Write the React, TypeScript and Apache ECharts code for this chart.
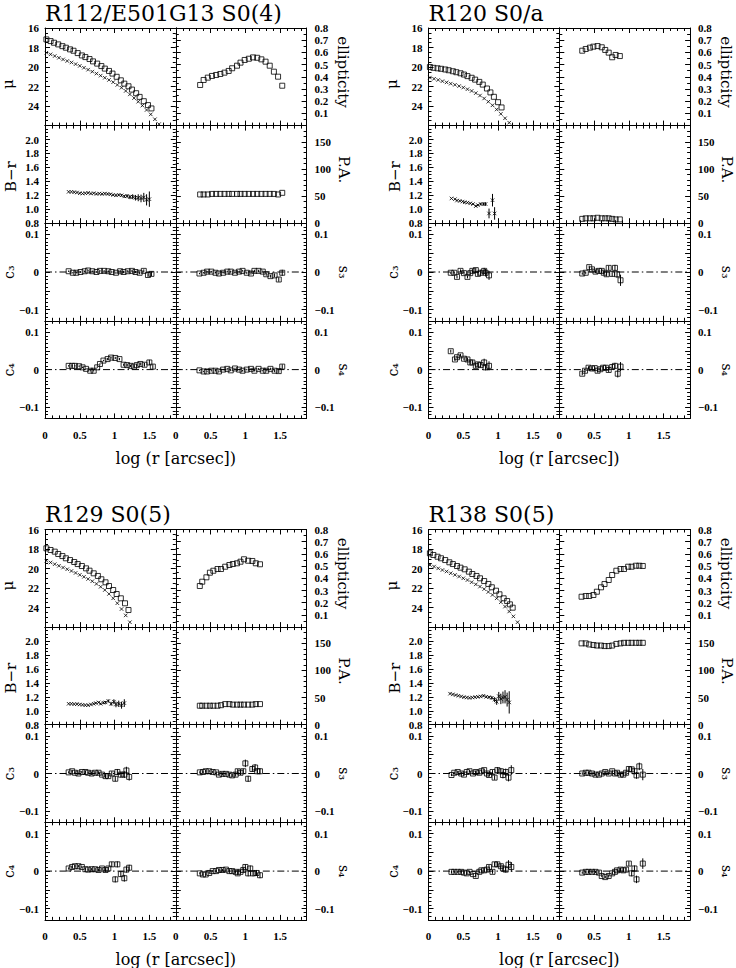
import React, { useEffect, useRef } from "react";
import * as echarts from "echarts";

const X_MAX = 1.88;

// ---------------- R112/E501G13 ----------------
const r112Title = "R112/E501G13 S0(4)";
const r112MuX = [0.02,0.08,0.13,0.19,0.25,0.30,0.36,0.41,0.47,0.53,0.58,0.64,0.69,0.75,0.81,0.86,0.92,0.97,1.03,1.09,1.14,1.20,1.25,1.31,1.36,1.42,1.48,1.53];
const r112Mu = [17.17,17.34,17.51,17.68,17.86,18.02,18.19,18.33,18.57,18.81,18.98,19.18,19.42,19.65,19.90,20.16,20.40,20.67,21.00,21.36,21.70,21.97,22.31,22.68,23.06,23.50,23.90,24.24];
const r112MuBX = [0.02,0.08,0.14,0.20,0.26,0.32,0.38,0.44,0.50,0.56,0.62,0.68,0.74,0.80,0.86,0.92,0.98,1.04,1.10,1.16,1.22,1.28,1.34,1.40,1.46,1.52,1.58,1.64];
const r112MuB = [18.53,18.70,18.87,19.05,19.22,19.38,19.53,19.70,19.88,20.07,20.27,20.47,20.67,20.88,21.10,21.32,21.55,21.83,22.12,22.45,22.80,23.18,23.55,23.95,24.40,24.85,25.35,25.85];
const r112IsoX = [0.35,0.40,0.46,0.52,0.58,0.64,0.70,0.76,0.81,0.88,0.93,0.99,1.05,1.11,1.17,1.23,1.29,1.35,1.41,1.47,1.53];
const r112Ell = [0.333,0.374,0.393,0.407,0.415,0.423,0.434,0.448,0.470,0.491,0.516,0.538,0.548,0.559,0.556,0.543,0.524,0.491,0.442,0.401,0.327];
const r112Pa = [53,53,53,54,54,54,54,54,54,54,54,54,54,54,54,54,54,54,54,53,56];
const r112BrX = [0.34,0.38,0.42,0.46,0.50,0.54,0.58,0.62,0.66,0.70,0.74,0.78,0.82,0.86,0.90,0.94,0.98,1.02,1.06,1.10,1.14,1.18,1.22,1.26,1.30,1.34,1.38,1.42,1.46,1.50];
const r112Br = [1.25,1.25,1.245,1.24,1.23,1.225,1.23,1.235,1.225,1.23,1.22,1.225,1.22,1.225,1.22,1.215,1.205,1.20,1.205,1.20,1.185,1.19,1.175,1.18,1.165,1.165,1.155,1.17,1.135,1.145];
const r112BrE = [0.004,0.004,0.004,0.005,0.005,0.005,0.006,0.006,0.007,0.007,0.008,0.008,0.009,0.010,0.010,0.011,0.012,0.013,0.014,0.016,0.020,0.025,0.030,0.035,0.040,0.050,0.055,0.065,0.080,0.110];
const r112HarmX = [0.34,0.40,0.45,0.51,0.57,0.62,0.68,0.74,0.79,0.85,0.91,0.96,1.02,1.08,1.13,1.19,1.25,1.30,1.36,1.42,1.48,1.53];
const r112C3 = [0.002,-0.002,-0.002,0.000,0.002,0.004,0.002,0.000,0.003,0.003,0.002,0.000,-0.002,0.002,0.000,0.002,0.003,0.000,-0.002,0.003,-0.008,-0.005];
const r112C3E = [0.002,0.002,0.002,0.002,0.002,0.002,0.002,0.002,0.002,0.002,0.002,0.002,0.003,0.003,0.003,0.003,0.003,0.003,0.004,0.004,0.005,0.006];
const r112S3 = [-0.004,-0.002,0.001,0.001,-0.002,-0.004,-0.002,0.001,0.001,-0.002,0.001,0.003,-0.002,-0.004,0.003,0.003,0.001,-0.006,-0.011,-0.009,-0.020,-0.002];
const r112S3E = [0.002,0.002,0.002,0.002,0.002,0.002,0.002,0.002,0.002,0.002,0.002,0.002,0.003,0.003,0.003,0.003,0.003,0.004,0.004,0.005,0.006,0.008];
const r112C4X = [0.34,0.39,0.43,0.49,0.54,0.59,0.65,0.70,0.75,0.79,0.84,0.90,0.95,1.01,1.07,1.13,1.18,1.23,1.28,1.32,1.37,1.43,1.50,1.55];
const r112C4 = [0.010,0.010,0.010,0.009,0.006,0.002,-0.003,-0.003,0.006,0.015,0.024,0.028,0.032,0.031,0.028,0.013,0.012,0.010,0.008,0.012,0.015,0.013,0.019,0.008];
const r112C4E = [0.002,0.002,0.002,0.002,0.002,0.002,0.002,0.002,0.002,0.002,0.002,0.003,0.003,0.003,0.003,0.003,0.003,0.003,0.004,0.004,0.004,0.005,0.007,0.006];
const r112S4 = [-0.002,-0.005,-0.005,-0.003,-0.003,-0.005,0.000,0.002,-0.002,0.003,0.000,-0.003,0.000,0.002,-0.003,0.002,-0.003,-0.003,0.002,-0.003,-0.004,0.008];
const r112S4E = [0.002,0.002,0.002,0.002,0.002,0.002,0.002,0.002,0.002,0.002,0.002,0.002,0.002,0.002,0.002,0.002,0.002,0.002,0.003,0.004,0.005,0.006];

// ---------------- R120 ----------------
const r120Title = "R120 S0/a";
const r120MuX = [0.02,0.07,0.13,0.18,0.24,0.29,0.35,0.40,0.46,0.51,0.56,0.62,0.67,0.73,0.78,0.84,0.89,0.94,1.00,1.05];
const r120Mu = [20.00,20.08,20.13,20.18,20.25,20.33,20.43,20.53,20.64,20.77,20.93,21.10,21.29,21.52,21.80,22.20,22.60,23.05,23.60,24.14];
const r120MuBX = [0.02,0.08,0.14,0.20,0.26,0.32,0.38,0.44,0.50,0.56,0.62,0.68,0.74,0.80,0.86,0.92,0.98,1.04,1.10,1.16];
const r120MuB = [21.08,21.20,21.32,21.45,21.57,21.70,21.82,21.95,22.10,22.27,22.45,22.67,22.92,23.22,23.55,23.92,24.35,24.80,25.25,25.70];
const r120IsoX = [0.33,0.38,0.44,0.49,0.55,0.61,0.66,0.71,0.76,0.81,0.87];
const r120Ell = [0.614,0.628,0.639,0.647,0.652,0.642,0.620,0.598,0.560,0.579,0.570];
const r120Pa = [8,9,9,9,10,9,9,9,8,7,7];
const r120BrX = [0.33,0.38,0.41,0.45,0.49,0.52,0.56,0.60,0.64,0.68,0.71,0.75,0.79,0.82,0.87,0.92,0.95];
const r120Br = [1.155,1.145,1.125,1.12,1.11,1.10,1.095,1.085,1.075,1.045,1.06,1.075,1.075,1.075,0.94,1.13,0.94];
const r120BrE = [0.004,0.005,0.005,0.006,0.006,0.007,0.008,0.009,0.010,0.012,0.015,0.018,0.020,0.025,0.070,0.090,0.090];
const r120C3X = [0.32,0.37,0.41,0.46,0.51,0.56,0.60,0.63,0.68,0.71,0.75,0.80,0.82,0.87];
const r120C3 = [-0.002,-0.002,-0.013,0.003,-0.003,-0.013,-0.003,0.003,0.005,-0.005,-0.002,0.003,-0.002,-0.009];
const r120C3E = [0.003,0.003,0.004,0.004,0.004,0.004,0.005,0.005,0.006,0.006,0.008,0.008,0.010,0.012];
const r120S3X = [0.33,0.38,0.43,0.47,0.52,0.57,0.61,0.64,0.68,0.71,0.76,0.80,0.83,0.88];
const r120S3 = [-0.004,-0.002,0.013,0.007,0.001,0.003,0.003,-0.002,-0.006,0.011,-0.005,0.011,-0.006,-0.022];
const r120S3E = [0.003,0.003,0.004,0.004,0.004,0.004,0.005,0.005,0.006,0.006,0.007,0.008,0.010,0.015];
const r120C4X = [0.32,0.38,0.41,0.46,0.51,0.56,0.60,0.63,0.68,0.71,0.75,0.80,0.82,0.87];
const r120C4 = [0.049,0.027,0.033,0.038,0.029,0.027,0.019,0.019,0.010,0.014,0.012,0.019,0.006,0.010];
const r120C4E = [0.004,0.004,0.004,0.004,0.004,0.005,0.005,0.005,0.006,0.006,0.007,0.010,0.008,0.012];
const r120S4X = [0.33,0.37,0.42,0.47,0.51,0.55,0.59,0.63,0.67,0.71,0.76,0.80,0.84,0.88];
const r120S4 = [-0.011,-0.003,0.005,0.003,0.004,-0.003,0.001,0.005,0.005,-0.001,0.007,0.010,-0.011,0.008];
const r120S4E = [0.004,0.004,0.004,0.004,0.004,0.005,0.005,0.005,0.006,0.006,0.007,0.008,0.010,0.012];

// ---------------- R129 ----------------
const r129Title = "R129 S0(5)";
const r129MuX = [0.02,0.08,0.14,0.19,0.25,0.30,0.36,0.42,0.47,0.53,0.59,0.64,0.70,0.76,0.81,0.87,0.92,0.98,1.03,1.09,1.15,1.20];
const r129Mu = [17.93,18.10,18.27,18.51,18.72,18.95,19.13,19.33,19.54,19.74,19.98,20.22,20.49,20.76,21.10,21.41,21.79,22.20,22.61,23.05,23.56,24.25];
const r129MuBX = [0.02,0.08,0.14,0.20,0.26,0.32,0.38,0.44,0.50,0.56,0.62,0.68,0.74,0.80,0.86,0.92,0.98,1.04,1.10,1.16,1.22];
const r129MuB = [19.20,19.38,19.55,19.72,19.90,20.07,20.25,20.45,20.65,20.85,21.07,21.30,21.57,21.87,22.20,22.60,23.05,23.55,24.15,24.80,25.50];
const r129IsoX = [0.345,0.38,0.44,0.49,0.54,0.60,0.65,0.71,0.77,0.82,0.88,0.93,0.98,1.04,1.10,1.15,1.21];
const r129Ell = [0.337,0.372,0.408,0.446,0.462,0.476,0.476,0.495,0.509,0.517,0.523,0.536,0.556,0.544,0.542,0.523,0.515];
const r129Pa = [35,35,35,35,35,35,36,38,38,37,37,37,37,37,37,38,38];
const r129BrX = [0.34,0.38,0.42,0.46,0.50,0.54,0.58,0.62,0.66,0.70,0.73,0.77,0.80,0.84,0.87,0.91,0.95,0.99,1.02,1.06,1.10,1.14];
const r129Br = [1.10,1.10,1.095,1.095,1.09,1.085,1.08,1.08,1.09,1.10,1.11,1.12,1.10,1.115,1.12,1.14,1.10,1.13,1.09,1.10,1.08,1.11];
const r129BrE = [0.004,0.004,0.004,0.005,0.005,0.005,0.006,0.006,0.007,0.008,0.009,0.010,0.012,0.015,0.018,0.022,0.028,0.035,0.040,0.045,0.050,0.055];
const r129C3X = [0.34,0.39,0.43,0.48,0.53,0.58,0.62,0.67,0.72,0.77,0.82,0.87,0.91,0.96,1.01,1.04,1.09,1.14,1.17,1.21];
const r129C3 = [0.003,0.006,0.002,0.000,0.004,0.004,0.002,0.000,0.002,0.002,-0.003,-0.007,-0.007,0.000,-0.014,0.004,-0.003,-0.003,0.008,-0.009];
const r129C3E = [0.003,0.003,0.003,0.003,0.003,0.003,0.003,0.004,0.004,0.004,0.004,0.005,0.005,0.006,0.007,0.008,0.008,0.009,0.010,0.010];
const r129S3X = [0.345,0.39,0.43,0.48,0.53,0.58,0.62,0.67,0.72,0.77,0.81,0.86,0.89,0.93,0.97,1.00,1.04,1.10,1.14,1.17,1.21];
const r129S3 = [0.003,0.004,0.006,0.006,0.004,0.003,-0.003,-0.001,-0.001,-0.003,-0.005,-0.003,0.006,0.002,0.006,0.027,-0.014,0.012,0.016,0.006,0.006];
const r129S3E = [0.003,0.003,0.003,0.003,0.003,0.003,0.003,0.004,0.004,0.004,0.004,0.005,0.006,0.006,0.007,0.010,0.008,0.008,0.009,0.008,0.008];
const r129C4 = [0.007,0.011,0.013,0.013,0.011,0.005,0.004,0.005,0.005,0.003,0.007,0.003,0.007,0.018,-0.022,0.018,-0.008,-0.019,0.004,0.009];
const r129C4E = [0.003,0.003,0.003,0.003,0.003,0.003,0.003,0.003,0.004,0.004,0.004,0.005,0.005,0.007,0.008,0.008,0.008,0.009,0.008,0.008];
const r129S4X = [0.345,0.39,0.43,0.48,0.53,0.58,0.62,0.67,0.72,0.77,0.81,0.86,0.89,0.93,0.97,1.00,1.04,1.07,1.11,1.16,1.21];
const r129S4 = [-0.006,-0.009,-0.009,-0.005,0.000,0.000,0.003,0.003,0.004,0.000,0.000,-0.002,-0.006,-0.002,0.003,0.011,-0.006,0.007,-0.006,-0.005,-0.011];
const r129S4E = [0.003,0.003,0.003,0.003,0.003,0.003,0.003,0.003,0.004,0.004,0.004,0.004,0.005,0.005,0.006,0.007,0.008,0.008,0.008,0.008,0.008];

// ---------------- R138 ----------------
const r138Title = "R138 S0(5)";
const r138MuX = [0.02,0.07,0.13,0.18,0.24,0.30,0.35,0.41,0.46,0.52,0.58,0.63,0.69,0.74,0.80,0.86,0.91,0.97,1.02,1.08,1.13,1.17,1.21];
const r138Mu = [18.44,18.61,18.79,18.95,19.13,19.36,19.54,19.74,19.91,20.08,20.32,20.56,20.76,21.00,21.28,21.58,21.92,22.27,22.64,23.05,23.33,23.67,24.01];
const r138MuBX = [0.02,0.08,0.14,0.20,0.26,0.32,0.38,0.44,0.50,0.56,0.62,0.68,0.74,0.80,0.86,0.92,0.98,1.04,1.10,1.16,1.22,1.28];
const r138MuB = [19.64,19.80,19.98,20.15,20.30,20.48,20.65,20.82,21.00,21.18,21.40,21.62,21.85,22.10,22.40,22.70,23.05,23.45,23.90,24.40,24.90,25.50];
const r138IsoX = [0.32,0.38,0.43,0.49,0.54,0.60,0.65,0.71,0.76,0.82,0.88,0.93,0.99,1.04,1.10,1.15,1.20];
const r138Ell = [0.249,0.255,0.255,0.263,0.290,0.326,0.353,0.386,0.427,0.462,0.476,0.476,0.495,0.495,0.503,0.503,0.501];
const r138Pa = [150,150,148,147,146,146,145,145,146,149,150,151,151,151,151,151,151];
const r138BrX = [0.31,0.35,0.39,0.43,0.47,0.51,0.55,0.59,0.63,0.67,0.71,0.75,0.79,0.83,0.87,0.91,0.95,0.98,1.01,1.04,1.07,1.10,1.13,1.16];
const r138Br = [1.245,1.235,1.225,1.215,1.205,1.195,1.19,1.185,1.19,1.195,1.20,1.205,1.215,1.20,1.195,1.185,1.16,1.13,1.21,1.17,1.19,1.20,1.16,1.12];
const r138BrE = [0.004,0.004,0.004,0.005,0.005,0.005,0.006,0.006,0.007,0.008,0.009,0.010,0.012,0.015,0.018,0.025,0.035,0.045,0.060,0.075,0.085,0.095,0.100,0.160];
const r138C3X = [0.33,0.37,0.42,0.47,0.51,0.55,0.59,0.64,0.68,0.73,0.76,0.80,0.84,0.87,0.92,0.95,0.99,1.04,1.07,1.11,1.15,1.19];
const r138C3 = [-0.004,0.002,0.004,0.000,-0.003,0.004,0.006,0.000,0.004,0.002,0.006,0.009,0.000,-0.004,0.004,-0.011,0.009,0.006,-0.004,0.004,-0.011,0.009];
const r138C3E = [0.003,0.003,0.003,0.003,0.003,0.003,0.003,0.003,0.004,0.004,0.004,0.004,0.005,0.005,0.005,0.006,0.008,0.008,0.009,0.009,0.010,0.013];
const r138S3X = [0.33,0.38,0.42,0.47,0.52,0.57,0.61,0.66,0.71,0.76,0.80,0.83,0.88,0.92,0.96,1.00,1.04,1.08,1.11,1.15,1.20];
const r138S3 = [0.000,0.002,0.002,0.000,-0.003,-0.003,0.000,0.004,0.000,0.006,0.000,0.002,-0.003,-0.003,0.002,0.012,0.011,0.006,-0.005,0.019,-0.003];
const r138S3E = [0.003,0.003,0.003,0.003,0.003,0.003,0.003,0.004,0.004,0.004,0.004,0.004,0.005,0.005,0.006,0.007,0.007,0.008,0.009,0.010,0.015];
const r138C4 = [-0.002,-0.002,-0.002,-0.002,-0.004,-0.006,-0.002,-0.008,-0.013,-0.002,0.002,0.002,0.004,0.011,-0.002,0.018,0.018,0.013,0.007,0.004,0.017,0.011];
const r138C4E = [0.003,0.003,0.003,0.003,0.003,0.003,0.003,0.003,0.004,0.004,0.004,0.004,0.005,0.005,0.005,0.006,0.007,0.007,0.008,0.008,0.012,0.013];
const r138S4X = [0.33,0.38,0.42,0.47,0.52,0.57,0.61,0.66,0.71,0.76,0.80,0.83,0.88,0.92,0.96,1.00,1.04,1.08,1.11,1.20];
const r138S4 = [-0.004,-0.002,-0.002,-0.002,-0.002,-0.004,-0.013,-0.016,-0.013,-0.006,-0.002,0.002,0.004,0.002,0.004,0.020,-0.006,0.007,-0.022,0.020];
const r138S4E = [0.003,0.003,0.003,0.003,0.003,0.003,0.003,0.003,0.004,0.004,0.004,0.004,0.005,0.005,0.006,0.006,0.008,0.008,0.010,0.014];

// axis tick labels / names
const muTicks = [16, 18, 20, 22, 24];
const ellTicks = [0.1, 0.2, 0.3, 0.4, 0.5, 0.6, 0.7, 0.8];
const brTicks = [0.8, 1.0, 1.2, 1.4, 1.6, 1.8, 2.0];
const paTicks = [0, 50, 100, 150];
const harmTicks = [-0.1, 0, 0.1];
const xTicks = [0, 0.5, 1, 1.5];
const leftNames = ["μ", "B−r", "c₃", "c₄"];
const rightNames = ["ellipticity", "P.A.", "s₃", "s₄"];
const xTitle = "log (r [arcsec])";

const galaxies = [
  { title: r112Title, muX: r112MuX, mu: r112Mu, muBX: r112MuBX, muB: r112MuB, isoX: r112IsoX, ell: r112Ell, pa: r112Pa, brX: r112BrX, br: r112Br, brE: r112BrE,
    c3X: r112HarmX, c3: r112C3, c3E: r112C3E, s3X: r112HarmX, s3: r112S3, s3E: r112S3E, c4X: r112C4X, c4: r112C4, c4E: r112C4E, s4X: r112HarmX, s4: r112S4, s4E: r112S4E },
  { title: r120Title, muX: r120MuX, mu: r120Mu, muBX: r120MuBX, muB: r120MuB, isoX: r120IsoX, ell: r120Ell, pa: r120Pa, brX: r120BrX, br: r120Br, brE: r120BrE,
    c3X: r120C3X, c3: r120C3, c3E: r120C3E, s3X: r120S3X, s3: r120S3, s3E: r120S3E, c4X: r120C4X, c4: r120C4, c4E: r120C4E, s4X: r120S4X, s4: r120S4, s4E: r120S4E },
  { title: r129Title, muX: r129MuX, mu: r129Mu, muBX: r129MuBX, muB: r129MuB, isoX: r129IsoX, ell: r129Ell, pa: r129Pa, brX: r129BrX, br: r129Br, brE: r129BrE,
    c3X: r129C3X, c3: r129C3, c3E: r129C3E, s3X: r129S3X, s3: r129S3, s3E: r129S3E, c4X: r129C3X, c4: r129C4, c4E: r129C4E, s4X: r129S4X, s4: r129S4, s4E: r129S4E },
  { title: r138Title, muX: r138MuX, mu: r138Mu, muBX: r138MuBX, muB: r138MuB, isoX: r138IsoX, ell: r138Ell, pa: r138Pa, brX: r138BrX, br: r138Br, brE: r138BrE,
    c3X: r138C3X, c3: r138C3, c3E: r138C3E, s3X: r138S3X, s3: r138S3, s3E: r138S3E, c4X: r138C3X, c4: r138C4, c4E: r138C4E, s4X: r138S4X, s4: r138S4, s4E: r138S4E },
];

// layout
const PANEL_X = [45, 428.5, 45, 428.5];
const PANEL_Y = [28, 28, 529.5, 529.5];
const COL_W = 130.8;
const ROW_H = 97.6;
const TICK_FONT = '"Liberation Serif", serif';
const NAME_FONT = '"DejaVu Serif", serif';

const near = (v: number, list: number[]) => list.some((t) => Math.abs(t - v) < 1e-6);
const fmt = (v: number, list: number[], dec: number) => {
  if (!near(v, list)) return "";
  if (Math.abs(v) < 1e-9) return "0";
  const s = dec > 0 ? Math.abs(v).toFixed(dec) : String(Math.abs(Math.round(v)));
  return (v < 0 ? "−" : "") + s;
};

type YSpec = { min: number; max: number; inverse?: boolean; interval?: number; step?: number; minor: number; labels: number[]; dec: number };
const muSpec: YSpec = { min: 16, max: 26, inverse: true, interval: 2, minor: 4, labels: muTicks, dec: 0 };
const ellSpec: YSpec = { min: 0, max: 0.8, interval: 0.1, minor: 2, labels: ellTicks, dec: 1 };
const brSpec: YSpec = { min: 0.8, max: 2.2, interval: 0.2, minor: 4, labels: brTicks, dec: 1 };
const paSpec: YSpec = { min: 0, max: 180, interval: 50, minor: 5, labels: paTicks, dec: 0 };
const harmSpec: YSpec = { min: -0.13, max: 0.13, step: 0.05, minor: 5, labels: harmTicks, dec: 1 };
const rowSpecs: YSpec[][] = [
  [muSpec, ellSpec],
  [brSpec, paSpec],
  [harmSpec, harmSpec],
  [harmSpec, harmSpec],
];

const LINE = { show: true, onZero: false, lineStyle: { color: "#000", width: 1 } };
const TICK = { show: true, inside: true, length: 5, lineStyle: { color: "#000", width: 1 } };

function makeX(gridIndex: number, position: string, showLabels: boolean) {
  return {
    type: "value", gridIndex, position, min: 0, max: X_MAX, interval: 0.5,
    axisLine: LINE, axisTick: TICK,
    minorTick: { show: true, splitNumber: 5, length: 3, lineStyle: { color: "#000", width: 1 } },
    splitLine: { show: false }, minorSplitLine: { show: false },
    axisPointer: { show: false },
    axisLabel: {
      show: showLabels, margin: 11, color: "#000", fontFamily: TICK_FONT, fontSize: 11, fontWeight: "bold",
      formatter: (v: number) => fmt(v, xTicks, v === 0.5 || v === 1.5 ? 1 : 0),
    },
  };
}

function makeY(gridIndex: number, position: string, spec: YSpec, showLabels: boolean) {
  const a: any = {
    type: "value", gridIndex, position, min: spec.min, max: spec.max, inverse: !!spec.inverse,
    axisLine: LINE, axisTick: TICK,
    minorTick: { show: true, splitNumber: spec.minor, length: 3, lineStyle: { color: "#000", width: 1 } },
    splitLine: { show: false }, minorSplitLine: { show: false },
    axisPointer: { show: false },
    axisLabel: {
      show: showLabels, margin: position === "left" ? 6 : 8, color: "#000", fontFamily: TICK_FONT, fontSize: 11, fontWeight: "bold",
      formatter: (v: number) => fmt(v, spec.labels, spec.dec),
    },
  };
  if (spec.interval != null) a.interval = spec.interval;
  else { a.minInterval = spec.step; a.maxInterval = spec.step; a.splitNumber = 5; }
  return a;
}

const pairs = (xs: number[], ys: number[]) => xs.map((x, i) => [x, ys[i]]);
const triples = (xs: number[], ys: number[], es: number[]) => xs.map((x, i) => [x, ys[i], es[i]]);

function squares(ax: number, data: number[][]) {
  return { type: "scatter", xAxisIndex: ax, yAxisIndex: ax, data, symbol: "rect", symbolSize: 5, silent: true, z: 4,
    emphasis: { disabled: true }, itemStyle: { color: "rgba(0,0,0,0)", borderColor: "#000", borderWidth: 1 } };
}
function crosses(ax: number, data: number[][]) {
  return { type: "scatter", xAxisIndex: ax, yAxisIndex: ax, data, symbol: "path://M0,0L10,10M10,0L0,10", symbolSize: 3.5, silent: true, z: 4,
    emphasis: { disabled: true }, itemStyle: { color: "rgba(0,0,0,0)", borderColor: "#000", borderWidth: 1 } };
}
function errBars(ax: number, data: number[][]) {
  return {
    type: "custom", xAxisIndex: ax, yAxisIndex: ax, data, silent: true, z: 3, clip: true,
    encode: { x: 0, y: 1 },
    renderItem: (_p: any, api: any) => {
      const x = api.value(0), y = api.value(1), e = api.value(2);
      const a = api.coord([x, y - e]);
      const b = api.coord([x, y + e]);
      return { type: "line", shape: { x1: a[0], y1: a[1], x2: b[0], y2: b[1] }, style: { stroke: "#000", lineWidth: 1 } };
    },
  };
}
function zeroLine(ax: number) {
  return { type: "line", xAxisIndex: ax, yAxisIndex: ax, data: [[0, 0], [X_MAX, 0]], symbol: "none", silent: true, z: 2,
    lineStyle: { color: "#000", width: 1, type: [7, 3, 1.5, 3] } };
}

function txt(x: number, y: number, text: string, size: number, rotation = 0, align = "center") {
  return { type: "text", x, y, rotation, silent: true,
    style: { text, fontSize: size, fontFamily: NAME_FONT, fill: "#000", align, verticalAlign: "middle", textAlign: align, textVerticalAlign: "middle" } };
}

function buildOption() {
  const grid: any[] = [], xAxis: any[] = [], yAxis: any[] = [], series: any[] = [], graphic: any[] = [];
  galaxies.forEach((g, gi) => {
    const px = PANEL_X[gi], py = PANEL_Y[gi];
    for (let r = 0; r < 4; r++) {
      for (let c = 0; c < 2; c++) {
        const idx = grid.length;
        grid.push({ left: px + c * COL_W, top: py + r * ROW_H, width: COL_W, height: ROW_H, containLabel: false, outerBoundsMode: "none" });
        xAxis.push(makeX(idx, "bottom", r === 3));
        xAxis.push(makeX(idx, "top", false));
        const spec = rowSpecs[r][c];
        yAxis.push(makeY(idx, "left", spec, c === 0));
        yAxis.push(makeY(idx, "right", spec, c === 1));
        const ax = idx * 2;
        if (r === 0 && c === 0) {
          series.push(crosses(ax, pairs(g.muBX, g.muB)));
          series.push(squares(ax, pairs(g.muX, g.mu)));
        } else if (r === 0 && c === 1) {
          series.push(squares(ax, pairs(g.isoX, g.ell)));
        } else if (r === 1 && c === 0) {
          series.push(errBars(ax, triples(g.brX, g.br, g.brE)));
          series.push(crosses(ax, pairs(g.brX, g.br)));
        } else if (r === 1 && c === 1) {
          series.push(squares(ax, pairs(g.isoX, g.pa)));
        } else {
          const key = r === 2 ? (c === 0 ? "c3" : "s3") : (c === 0 ? "c4" : "s4");
          const xs = (g as any)[key + "X"], ys = (g as any)[key], es = (g as any)[key + "E"];
          series.push(zeroLine(ax));
          series.push(errBars(ax, triples(xs, ys, es)));
          series.push(squares(ax, pairs(xs, ys)));
        }
      }
    }
    // title
    graphic.push({ type: "text", x: px, y: py - 15, silent: true,
      style: { text: g.title, fontSize: 22, fontFamily: NAME_FONT, fill: "#000", align: "left", verticalAlign: "middle", textAlign: "left", textVerticalAlign: "middle" } });
    // left names
    graphic.push(txt(px - 37, py + 56, leftNames[0], 15, Math.PI / 2));
    graphic.push(txt(px - 34, py + ROW_H + 51, leftNames[1], 15, Math.PI / 2));
    graphic.push(txt(px - 36, py + 2 * ROW_H + 49, leftNames[2], 14, Math.PI / 2));
    graphic.push(txt(px - 36, py + 3 * ROW_H + 49, leftNames[3], 14, Math.PI / 2));
    // right names
    const rx = px + 2 * COL_W + 36;
    graphic.push(txt(rx, py + 44, rightNames[0], 15, -Math.PI / 2));
    graphic.push(txt(rx + 1, py + ROW_H + 44, rightNames[1], 15, -Math.PI / 2));
    graphic.push(txt(rx + 1, py + 2 * ROW_H + 49, rightNames[2], 14, -Math.PI / 2));
    graphic.push(txt(rx + 1, py + 3 * ROW_H + 49, rightNames[3], 14, -Math.PI / 2));
    // x title
    graphic.push(txt(px + COL_W, py + 4 * ROW_H + 40, xTitle, 16));
  });
  return { animation: false, backgroundColor: "#fff", grid, xAxis, yAxis, series, graphic };
}

export default function App() {
  const ref = useRef<HTMLDivElement>(null);
  useEffect(() => {
    if (!ref.current) return;
    const chart = echarts.init(ref.current, null, { renderer: "svg" });
    chart.setOption(buildOption() as any);
    return () => chart.dispose();
  }, []);
  return <div ref={ref} style={{ position: "fixed", left: 0, top: 0, width: 736, height: 968, background: "#fff" }} />;
}
